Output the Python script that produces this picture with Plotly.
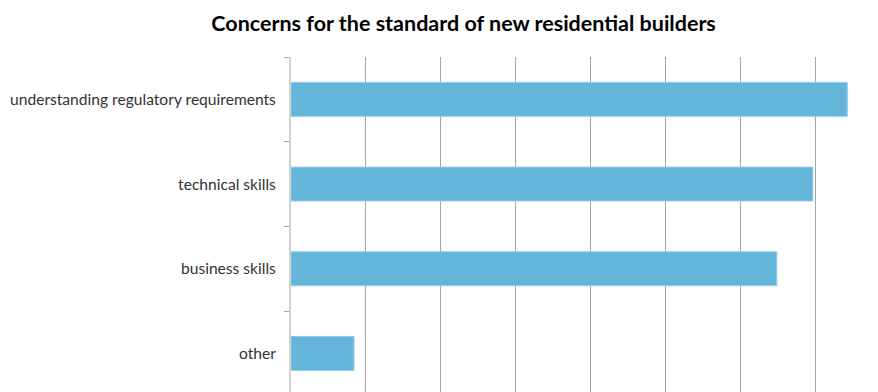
import plotly.graph_objects as go

categories = ["understanding regulatory requirements", "technical skills", "business skills", "other"]
values = [7.42, 6.96, 6.48, 0.84]
title_text = "Concerns for the standard of new residential builders"

fig = go.Figure(go.Bar(
    x=values, y=categories, orientation="h",
    marker=dict(color="#63b6da", line=dict(color="#8fcbe6", width=1)),
    width=0.4,
))

fig.update_layout(
    width=878, height=392,
    margin=dict(l=291, r=0, t=57, b=0),
    paper_bgcolor="white", plot_bgcolor="white",
    showlegend=False,
    title=dict(text="<b>" + title_text + "</b>", x=0.528, xanchor="center",
               y=0.94, yanchor="middle",
               font=dict(family="Lato, Carlito, Calibri, sans-serif", size=21.5, color="#000000")),
    font=dict(family="Lato, Carlito, Calibri, sans-serif", size=15.6, color="#333333"),
)
fig.update_xaxes(range=[0, 7.83], dtick=1, showticklabels=False, showgrid=True,
                 gridcolor="#a6a6a6", gridwidth=1, zeroline=False, showline=False)
fig.update_yaxes(type="category", categoryorder="array", categoryarray=categories,
                 range=[3.455, -0.5], showline=True, linecolor="#d0d0d0", linewidth=2,
                 ticks="outside", tickson="boundaries", ticklen=5, tickcolor="#a6a6a6",
                 showgrid=False, ticklabelstandoff=10)

fig.write_html("out.html")
